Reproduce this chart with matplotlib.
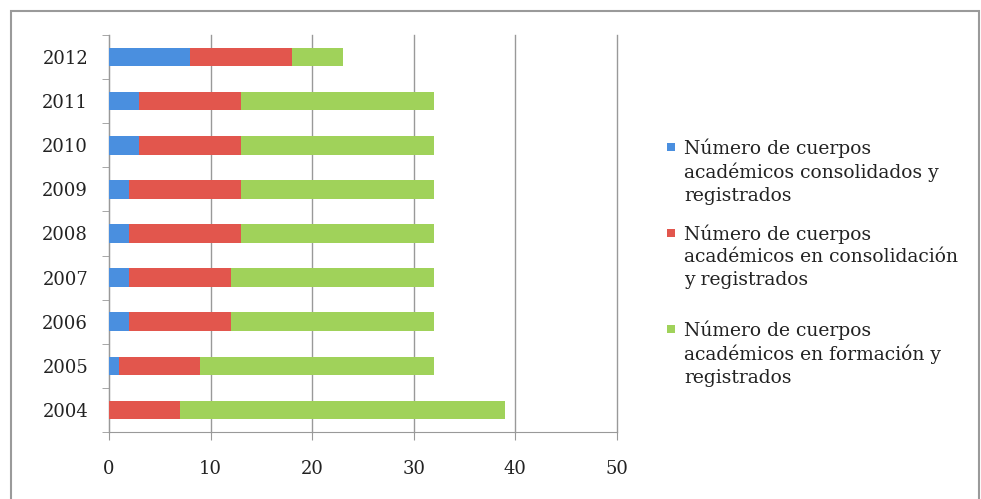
import numpy as np
import matplotlib.pyplot as plt
from matplotlib.patches import Rectangle

years = ['2004', '2005', '2006', '2007', '2008', '2009', '2010', '2011', '2012']
consolidados = [0, 1, 2, 2, 2, 2, 3, 3, 8]
en_consolidacion = [7, 8, 10, 10, 11, 11, 10, 10, 10]
en_formacion = [32, 23, 20, 20, 19, 19, 19, 19, 5]

labels = ['Número de cuerpos\nacadémicos consolidados y\nregistrados',
          'Número de cuerpos\nacadémicos en consolidación\ny registrados',
          'Número de cuerpos\nacadémicos en formación y\nregistrados']
colors = ['#4a8fdf', '#e2564d', '#a0d25a']

plt.rcParams['font.family'] = ['DejaVu Serif']

W, H = 981, 499
fig = plt.figure(figsize=(W / 100, H / 100), dpi=100)
ax = fig.add_axes([109 / W, 1 - 432 / H, (617 - 109) / W, (432 - 35) / H])

y = np.arange(len(years))
left = np.zeros(len(years))
for vals, col in zip([consolidados, en_consolidacion, en_formacion], colors):
    ax.barh(y, vals, left=left, height=0.42, color=col, zorder=3)
    left += np.array(vals)

ax.set_xlim(0, 50)
ax.set_ylim(-0.5, len(years) - 0.5)
ax.set_xticks([0, 10, 20, 30, 40, 50])
ax.set_yticks(y)
ax.set_yticklabels(years)
ax.set_yticks(np.arange(-0.5, len(years)), minor=True)
ax.tick_params(axis='y', which='major', length=0, pad=15, labelsize=13, labelcolor='#222222')
ax.tick_params(axis='y', which='minor', length=5, color='#999999')
ax.tick_params(axis='x', length=6, color='#999999', pad=14, labelsize=13, labelcolor='#222222')
ax.grid(axis='x', color='#999999', linewidth=1, zorder=0)
for gl in ax.get_xgridlines():
    gl.set_clip_on(False)

for s in ['top', 'right']:
    ax.spines[s].set_visible(False)
for s in ['left', 'bottom']:
    ax.spines[s].set_color('#999999')

# legend drawn by hand so each marker sits on the first line of its label
entry_tops = [147, 233, 329]
for top, col, lab in zip(entry_tops, colors, labels):
    fig.text(684 / W, 1 - (top - 9) / H, lab, fontsize=13.5, color='#222222',
             va='top', ha='left', linespacing=1.35)
    fig.patches.append(Rectangle((667 / W, 1 - (top + 4) / H), 8 / W, 8 / H,
                                 transform=fig.transFigure, facecolor=col, edgecolor='none'))

# outer chart border
fig.patches.append(Rectangle((11 / W, -0.01), (979 - 11) / W, 1 - 11 / H + 0.01,
                             transform=fig.transFigure, fill=False,
                             edgecolor='#9a9a9a', linewidth=1.5))

fig.savefig('out.png', dpi=100)
